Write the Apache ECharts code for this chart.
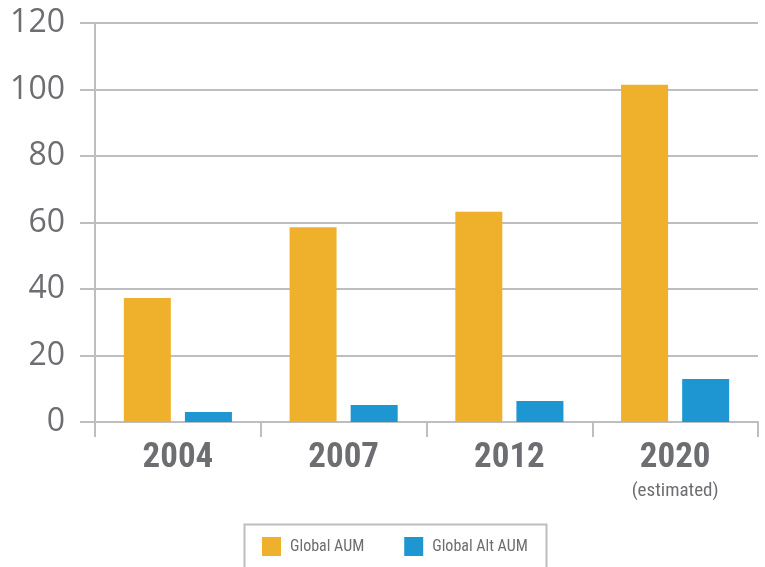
<!DOCTYPE html>
<html>
<head>
<meta charset="utf-8">
<script src="https://cdn.jsdelivr.net/npm/echarts@6/dist/echarts.min.js"></script>
<style>html,body{margin:0;padding:0;background:#fff;}#c{width:765px;height:567px;}</style>
</head>
<body>
<div id="c"></div>
<script>
const categories = ['2004', '2007', '2012', '2020'];
const categoryNotes = ['', '', '', '(estimated)'];
const seriesNames = ['Global AUM', 'Global Alt AUM'];
const globalAUM = [37.3, 58.6, 63.2, 101.4];
const globalAltAUM = [3.0, 5.1, 6.3, 12.9];
const yTicks = [0, 20, 40, 60, 80, 100, 120];

const grey = '#bcbec0';
const textGrey = '#6d6e71';
const narrow = "'Roboto Condensed', 'Liberation Sans Narrow', Roboto, sans-serif";

const chart = echarts.init(document.getElementById('c'), null, {renderer: 'canvas'});
chart.setOption({
  animation: false,
  grid: {left: 95, right: 7, top: 23, bottom: 145, containLabel: false},
  legend: {
    data: seriesNames,
    left: 262, top: 537,
    padding: 0,
    itemWidth: 19, itemHeight: 19,
    itemGap: 40,
    icon: 'rect',
    textStyle: {color: textGrey, fontSize: 16, fontFamily: narrow, padding: [0, 0, 0, 4]}
  },
  graphic: [{
    type: 'rect', left: 242, top: 522,
    shape: {width: 302, height: 60},
    style: {fill: 'none', stroke: grey, lineWidth: 2}
  }],
  xAxis: {
    type: 'category',
    data: categories,
    boundaryGap: true,
    axisLine: {show: true, lineStyle: {color: grey, width: 2}},
    axisTick: {show: true, length: 15, lineStyle: {color: grey, width: 2}},
    axisLabel: {
      margin: 17,
      formatter: function (v) {
        const note = categoryNotes[categories.indexOf(v)];
        return note ? '{y|' + v + '}\n{n|' + note + '}' : '{y|' + v + '}';
      },
      rich: {
        y: {fontSize: 35, fontWeight: 'bold', color: textGrey, fontFamily: narrow, lineHeight: 38},
        n: {fontSize: 19, color: textGrey, fontFamily: narrow, lineHeight: 28}
      }
    },
    splitLine: {show: false}
  },
  yAxis: {
    type: 'value',
    min: yTicks[0], max: yTicks[yTicks.length - 1], interval: 20,
    axisLine: {show: true, lineStyle: {color: grey, width: 2}},
    axisTick: {show: true, length: 15, lineStyle: {color: grey, width: 2}},
    axisLabel: {margin: 30, color: textGrey, fontSize: 32, fontFamily: "'Open Sans', sans-serif"},
    splitLine: {show: true, lineStyle: {color: grey, width: 2}}
  },
  series: [
    {name: seriesNames[0], type: 'bar', data: globalAUM, barWidth: 47, barGap: '30%',
     itemStyle: {color: '#efb12b'}},
    {name: seriesNames[1], type: 'bar', data: globalAltAUM, barWidth: 47, barGap: '30%',
     itemStyle: {color: '#1e96d2'}}
  ]
});
</script>
</body>
</html>
